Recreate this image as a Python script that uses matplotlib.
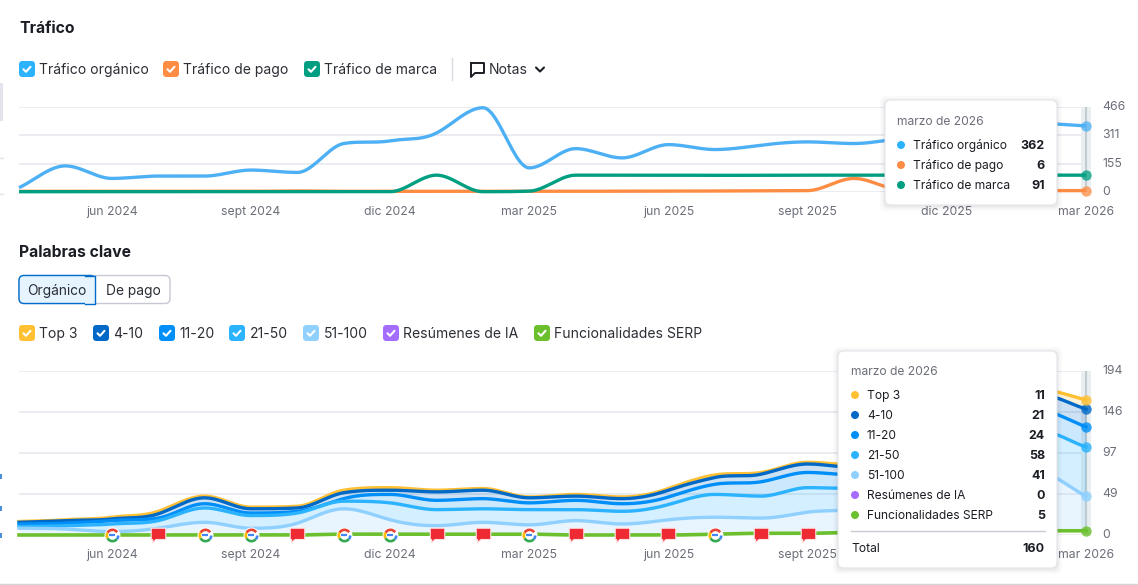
import numpy as np
import matplotlib
matplotlib.use('Agg')
import matplotlib.pyplot as plt
from matplotlib.patches import FancyBboxPatch, Rectangle, Circle
from matplotlib.path import Path
from matplotlib.transforms import ScaledTranslation

plt.rcParams['font.family'] = ['Inter', 'DejaVu Sans']

W, H = 1138, 585
GREY = '#6c6e79'
DARK = '#1b1d24'
GRID = '#e6e7ee'

# monthly data, abr 2024 .. mar 2026
months = np.arange(24)
tick_pos = [2, 5, 8, 11, 14, 17, 20, 23]
tick_labels = ['jun 2024', 'sept 2024', 'dic 2024', 'mar 2025', 'jun 2025', 'sept 2025', 'dic 2025', 'mar 2026']

organic = [22, 142, 73, 86, 86, 119, 106, 265, 280, 323, 462, 131, 237, 186, 259, 232, 256, 274, 265, 292, 300, 330, 375, 362]
paid = [2, 2, 2, 2, 2, 2, 4, 2, 2, 2, 2, 2, 2, 3, 3, 4, 5, 6, 73, 10, 6, 6, 6, 6]
brand = [0, 0, 0, 0, 0, 0, 0, 0, 0, 91, 0, 3, 91, 91, 91, 90, 90, 91, 91, 91, 91, 91, 91, 91]

serp = [0, 0, 0, 0, 0, 0, 0, 1, 1, 1, 1, 1, 0, 0, 0, 1, 2, 2, 3, 3, 4, 4, 5, 5]
pos51 = [8, 7, 4, 8, 15, 8, 14, 30, 17, 10, 14, 11, 17, 13, 18, 20, 18, 25, 27, 32, 40, 55, 68, 41]
pos21 = [2, 4, 9, 9, 17, 15, 12, 9, 20, 19, 16, 18, 13, 15, 18, 27, 26, 29, 25, 28, 35, 42, 50, 58]
pos11 = [3, 3, 4, 3, 5, 3, 2, 3, 10, 11, 12, 8, 11, 9, 9, 12, 17, 18, 16, 18, 20, 24, 24, 24]
pos4 = [2, 3, 2, 5, 7, 5, 4, 7, 5, 10, 10, 6, 5, 6, 8, 8, 9, 10, 9, 12, 14, 16, 19, 21]
top3 = [1, 1, 2, 3, 2, 2, 2, 3, 3, 2, 2, 1, 2, 2, 2, 3, 2, 2, 3, 4, 6, 6, 6, 11]
ai = [0] * 24

google_months = [2, 4, 5, 7, 8, 11, 15]
flag_months = [3, 6, 9, 10, 12, 13, 14, 16, 17]

C_BLUE, C_ORANGE, C_GREEN = '#4db0f5', '#ff8c43', '#009f81'
C_TOP3, C_POS4, C_POS11, C_POS21, C_POS51, C_AI, C_SERP = (
    '#ffc034', '#0069c8', '#008ff8', '#2bb3ff', '#8fd0ff', '#a56dff', '#6cc02e')


def smooth(y, n=24):
    # monotone cubic, same look as the d3 curve of the original chart
    y = np.asarray(y, float)
    d = np.diff(y)
    m = np.zeros(len(y))
    for i in range(1, len(y) - 1):
        if d[i - 1] * d[i] > 0:
            m[i] = min(abs(d[i - 1]), abs(d[i]), abs(d[i - 1] + d[i]) / 4) * 3 * np.sign(d[i])
    m[0], m[-1] = d[0], d[-1]
    xs, ys = [], []
    for i in range(len(d)):
        t = np.linspace(0, 1, n, endpoint=False)
        ys.append((2*t**3 - 3*t**2 + 1)*y[i] + (t**3 - 2*t**2 + t)*m[i]
                  + (-2*t**3 + 3*t**2)*y[i + 1] + (t**3 - t**2)*m[i + 1])
        xs.append(i + t)
    return np.append(np.concatenate(xs), len(y) - 1), np.append(np.concatenate(ys), y[-1])


def chart_axes(top, bottom):
    ax = fig.add_axes([19 / W, 1 - bottom / H, (1086 + 5 - 19) / W, (bottom - top) / H])
    ax.set_xlim(0, 23 + 5 / 46.4)
    for s in ax.spines.values():
        s.set_visible(False)
    ax.yaxis.tick_right()
    ax.set_xticks(tick_pos, tick_labels)
    ax.tick_params(axis='both', length=0, labelcolor=GREY, labelsize=8.8)
    ax.tick_params(axis='x', pad=10)
    ax.tick_params(axis='y', pad=8)
    ax.grid(axis='y', color=GRID, lw=1.1)
    ax.set_axisbelow(True)
    ax.axvspan(23 - 5 / 46.4, 23 + 5 / 46.4, color='#e9eef0', zorder=1, lw=0)
    ax.axvline(23, color='#c3ccd0', lw=1.5, zorder=2)
    return ax


def nudge_ylabels(ax):
    # labels sit a little above their gridline in the original
    for lab in ax.get_yticklabels():
        lab.set_transform(lab.get_transform() + ScaledTranslation(0, 1.5 / 100, fig.dpi_scale_trans))


def checkbox(x, y, color):
    ov.add_patch(FancyBboxPatch((x + 2, y + 2), 12, 12, boxstyle='round,pad=2,rounding_size=3.5', fc=color, ec='none'))
    ov.plot([x + 4.5, x + 7, x + 11.5], [y + 8.3, y + 10.8, y + 5.8], color='white', lw=1.5, solid_capstyle='round')


def tooltip(x0, y0, x1, y1):
    for grow, a in [(5, .02), (3, .025), (1.5, .04)]:
        ov.add_patch(FancyBboxPatch((x0 + 6 - grow, y0 + 6 - grow + 1), x1 - x0 - 12 + 2 * grow, y1 - y0 - 12 + 2 * grow,
                                    boxstyle='round,pad=6,rounding_size=6', fc='black', ec='none', alpha=a, zorder=5))
    ov.add_patch(FancyBboxPatch((x0 + 6, y0 + 6), x1 - x0 - 12, y1 - y0 - 12, boxstyle='round,pad=6,rounding_size=6',
                                fc='white', ec='#e4e5ea', lw=.8, zorder=6))


def tip_row(x, y, color, label, value, right=1045):
    ov.add_patch(Circle((x, y), 4, fc=color, ec='none', zorder=7))
    ov.text(x + 12, y + .7, label, fontsize=8.65, color=DARK, va='center', zorder=7)
    ov.text(right, y + .7, str(value), fontsize=9, color=DARK, va='center', ha='right', weight='bold', zorder=7)


fig = plt.figure(figsize=(W / 100, H / 100), dpi=100, facecolor='white')

# --- Trafico ---
ax1 = chart_axes(107, 191.7)
ax1.set_ylim(0, 466)
ax1.set_yticks([0, 155, 311, 466])
nudge_ylabels(ax1)
for series, color in [(organic, C_BLUE), (paid, C_ORANGE), (brand, C_GREEN)]:
    ax1.plot(*smooth(series), color=color, lw=2.4, zorder=3, solid_capstyle='butt', clip_on=False)
    ax1.plot(months[-1], series[-1], 'o', color=color, ms=7.5, mec='none', alpha=.75, zorder=4, clip_on=False)

# --- Palabras clave ---
ax2 = chart_axes(371, 535)
ax2.set_ylim(0, 194)
ax2.set_yticks([0, 49, 97, 146, 194], ['0', '49', '97', '146', '194'])
nudge_ylabels(ax2)
stack = [(serp, C_SERP), (pos51, C_POS51), (pos21, C_POS21), (pos11, C_POS11), (pos4, C_POS4), (top3, C_TOP3)]
total = np.zeros(24)
lower = None
for k, (series, color) in enumerate(stack):
    total = total + np.array(series)
    xs, ys = smooth(total)
    if lower is not None:
        ax2.fill_between(xs, lower, ys, color=color, alpha=.2, lw=0, zorder=2)
    # lower bands are painted over the upper ones
    ax2.plot(xs, ys, color=color, lw=2.6 if k == 0 else 2.4, zorder=4 - k * .1, clip_on=False)
    ax2.plot(months[-1], total[-1], 'o', color=color, ms=7.5, mec='none', alpha=.8, zorder=6, clip_on=False)
    lower = ys

# notes on the axis line: google updates and flags
flag = Path([(-1, -1), (1, -1), (1, .55), (-.35, .55), (-.8, 1), (-.8, .55), (-1, .55), (-1, -1)])
flag = Path(flag.vertices * [1, -1], closed=True)
ax2.plot(flag_months, [0] * len(flag_months), ls='', marker=flag, ms=10.5, mfc='#ee2b33', mec='#fde3e4', mew=.8, zorder=7, clip_on=False)
ax2.plot(google_months, [0] * len(google_months), ls='', marker='o', ms=11.5, mfc='white', mec='none', zorder=7, clip_on=False)
for a, b, c in [(35, 150, '#ea4335'), (150, 210, '#fbbc05'), (210, 320, '#34a853'), (320, 360, '#4285f4')]:
    ax2.plot(google_months, [0] * len(google_months), ls='', marker=Path.arc(a, b), ms=8.2, mfc='none', mec=c, mew=1.9, zorder=8, clip_on=False)
ax2.plot(google_months, [0] * len(google_months), ls='', marker='_', ms=4, mec='#4285f4', mew=1.6, zorder=8, clip_on=False)

# --- everything that is page furniture, in pixel coordinates ---
ov = fig.add_axes([0, 0, 1, 1], facecolor='none')
ov.set_xlim(0, W)
ov.set_ylim(H, 0)
ov.axis('off')

# bits of the neighbouring panel at the left edge
ov.add_patch(Rectangle((0, 83), 3, 38, fc='#e3e4ec', ec='none'))
for y in [157.5, 193.5]:
    ov.plot([0, 3], [y, y], color='#e3e4ec', lw=1)
for y in [476, 508, 535]:
    ov.add_patch(Rectangle((0, y - 2.5), 2.5, 5, fc='#4a90d9', ec='none'))

ov.text(19, 28.5, 'Tráfico', fontsize=11.3, weight='bold', color=DARK, va='center')
ov.text(19, 252.5, 'Palabras clave', fontsize=11.3, weight='bold', color=DARK, va='center')

for x, color, label in [(19, '#2bb3ff', 'Tráfico orgánico'), (163, C_ORANGE, 'Tráfico de pago'), (304, C_GREEN, 'Tráfico de marca')]:
    checkbox(x, 61, color)
    ov.text(x + 20.5, 70, label, fontsize=10.05, color='#2c2e36', va='center')
ov.plot([452, 452], [58, 80], color='#d9dbe1', lw=1)

# notas icon
ov.plot([471, 484, 484, 475, 471, 471], [63, 63, 73, 73, 77, 63], color=DARK, lw=1.4, solid_joinstyle='round')
ov.text(489, 70, 'Notas', fontsize=10.05, color='#2c2e36', va='center')
ov.plot([536, 540, 544], [67.5, 71.5, 67.5], color=DARK, lw=1.5, solid_capstyle='round')

# segmented button
ov.add_patch(FancyBboxPatch((23, 279.5), 143, 20, boxstyle='round,pad=4,rounding_size=5', fc='white', ec='#c6c9d2', lw=1))
ov.add_patch(FancyBboxPatch((23, 279.5), 68, 20, boxstyle='round,pad=4,rounding_size=5', fc='#e6f4ff', ec='#006dca', lw=1))
ov.add_patch(Rectangle((85, 275.5), 10, 28, fc='#e6f4ff', ec='none'))
ov.plot([85, 95, 95, 85], [275.5, 275.5, 303.5, 303.5], color='#006dca', lw=1)
ov.text(57, 290.5, 'Orgánico', fontsize=9.9, color='#2c2e36', va='center', ha='center')
ov.text(133, 290.5, 'De pago', fontsize=9.9, color='#2c2e36', va='center', ha='center')

for x, color, label in [(19, C_TOP3, 'Top 3'), (93, C_POS4, '4-10'), (159, C_POS11, '11-20'), (229, C_POS21, '21-50'),
                        (303, C_POS51, '51-100'), (383, C_AI, 'Resúmenes de IA'), (534, C_SERP, 'Funcionalidades SERP')]:
    checkbox(x, 325, color)
    ov.text(x + 20.5, 334, label, fontsize=10.05, color='#2c2e36', va='center')

# tooltips
tooltip(885, 100, 1057, 205)
ov.text(897, 122, 'marzo de 2026', fontsize=8.7, color=GREY, va='center', zorder=7)
tip_row(901, 145, '#2bb3ff', 'Tráfico orgánico', organic[-1])
tip_row(901, 165, C_ORANGE, 'Tráfico de pago', paid[-1])
tip_row(901, 185, C_GREEN, 'Tráfico de marca', brand[-1])

tooltip(838, 351, 1057, 568)
ov.text(851, 372, 'marzo de 2026', fontsize=8.7, color=GREY, va='center', zorder=7)
rows = [(C_TOP3, 'Top 3', top3), (C_POS4, '4-10', pos4), (C_POS11, '11-20', pos11), (C_POS21, '21-50', pos21),
        (C_POS51, '51-100', pos51), (C_AI, 'Resúmenes de IA', ai), (C_SERP, 'Funcionalidades SERP', serp)]
for k, (color, label, series) in enumerate(rows):
    tip_row(855, 395 + 20 * k, color, label, series[-1])
ov.plot([851, 1045], [531, 531], color='#c9cbd3', lw=1, zorder=7)
ov.text(851, 548.7, 'Total', fontsize=8.7, color=DARK, va='center', zorder=7)
ov.text(1045, 548.7, str(int(total[-1])), fontsize=9, color=DARK, va='center', ha='right', weight='bold', zorder=7)

# page bottom rule
ov.plot([0, W], [583.5, 583.5], color='#d5d6dc', lw=1)

fig.savefig('out.png', dpi=100)
